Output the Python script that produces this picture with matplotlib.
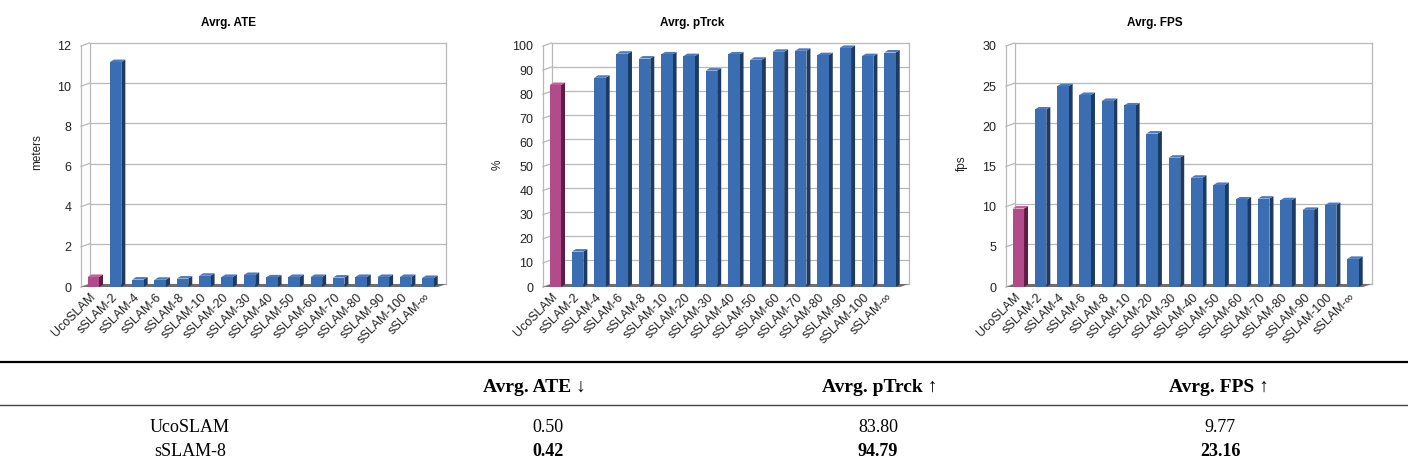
#Bar charts of the sSLAM variants against UcoSLAM, with a small summary table
import numpy as np
import matplotlib
matplotlib.use("Agg")
import matplotlib.pyplot as plt
from matplotlib.patches import Polygon
from matplotlib.lines import Line2D

#Method names on the x axis
methods = ['UcoSLAM', 'sSLAM-2', 'sSLAM-4', 'sSLAM-6', 'sSLAM-8', 'sSLAM-10',
           'sSLAM-20', 'sSLAM-30', 'sSLAM-40', 'sSLAM-50', 'sSLAM-60',
           'sSLAM-70', 'sSLAM-80', 'sSLAM-90', 'sSLAM-100', 'sSLAM-\u221e']

#Average values per method
ate = [0.50, 11.2, 0.37, 0.36, 0.42, 0.56, 0.50, 0.60, 0.48, 0.50, 0.50,
       0.47, 0.50, 0.50, 0.50, 0.45]
ptrck = [83.80, 14.7, 86.8, 96.8, 94.79, 96.5, 95.8, 89.8, 96.5, 94.3, 97.6,
         98.0, 96.2, 99.2, 95.8, 97.3]
fps = [9.77, 22.1, 25.0, 23.9, 23.16, 22.6, 19.1, 16.1, 13.6, 12.7, 10.9,
       11.0, 10.8, 9.6, 10.2, 3.5]

#Table rows
table_cols = ['Avrg. ATE \u2193', 'Avrg. pTrck \u2191', 'Avrg. FPS \u2191']
table_rows = ['UcoSLAM', 'sSLAM-8']
table_vals = [['0.50', '83.80', '9.77'],
              ['0.42', '94.79', '23.16']]

W, H = 1408, 471
fig = plt.figure(figsize=(W/100, H/100), dpi=100)
plt.rcParams['font.family'] = ['Liberation Sans', 'DejaVu Sans']

blue = ('#3b6db3', '#4a7bc0', '#1d3a62')     #front, top, side
pink = ('#b24b8b', '#c25f9c', '#5f1c46')


def chart(left, title, title_x, ylabel, ylab_xy, vals, ymax, ystep):
    #front plane of the chart in pixels
    width, top, bottom = 357, 46, 287
    ax = fig.add_axes([left/W, (H-bottom)/H, width/W, (bottom-top)/H])
    x0, x1 = -0.55, 15.45
    ax.set_xlim(x0, x1)
    ax.set_ylim(0, ymax)
    for s in ax.spines.values():
        s.set_visible(False)
    ax.patch.set_visible(False)

    #pixel offsets converted to data units for the fake depth
    ux = width/(x1-x0)
    uy = (bottom-top)/ymax
    wdx, wdy = 8.5/ux, 3.0/uy
    bdx, bdy = 4.0/ux, 2.5/uy
    bw = 11.5/ux

    ticks = np.arange(0, ymax+ystep/2, ystep)
    grid = dict(color='#b8b8b8', lw=0.9, clip_on=False, zorder=1)
    #floor
    ax.add_patch(Polygon([(x0, 0), (x1, 0), (x1+wdx, wdy), (x0+wdx, wdy)],
                         closed=True, fc='#6e6e6e', ec='none', clip_on=False, zorder=2))
    #back wall gridlines and left wall ticks
    for v in ticks:
        ax.plot([x0+wdx, x1+wdx], [v+wdy, v+wdy], **grid)
        ax.plot([x0, x0+wdx], [v, v+wdy], **grid)
    ax.plot([x0, x0], [0, ymax], **grid)
    ax.plot([x0+wdx, x0+wdx], [wdy, ymax+wdy], **grid)
    ax.plot([x1+wdx, x1+wdx], [wdy, ymax+wdy], **grid)

    #3D looking bars: front from ax.bar, side and top as polygons
    for i, v in enumerate(vals):
        front, topc, side = pink if i == 0 else blue
        l, r = i-bw/2, i+bw/2
        ax.add_patch(Polygon([(r, 0), (r+bdx, bdy), (r+bdx, v+bdy), (r, v)],
                             closed=True, fc=side, ec='none', clip_on=False, zorder=3))
        ax.add_patch(Polygon([(l, v), (r, v), (r+bdx, v+bdy), (l+bdx, v+bdy)],
                             closed=True, fc=topc, ec='none', clip_on=False, zorder=3))
    ax.bar(range(len(vals)), vals, width=bw,
           color=[pink[0]] + [blue[0]]*(len(vals)-1), zorder=4, clip_on=False)

    ax.set_yticks(ticks)
    ax.set_yticklabels([f'{t:g}' for t in ticks], fontsize=9, color='#222222')
    ax.set_xticks(range(len(methods)))
    ax.set_xticklabels(methods, rotation=45, ha='right', va='center',
                       rotation_mode='anchor', fontsize=9, color='#222222')
    ax.tick_params(axis='y', length=0, pad=7)
    ax.tick_params(axis='x', length=0, pad=6)

    fig.text(title_x/W, 1-23/H, title, ha='center', va='center',
             fontsize=8.5, fontweight='bold')
    fig.text(ylab_xy[0]/W, 1-ylab_xy[1]/H, ylabel, ha='center', va='center',
             rotation=90, fontsize=8.5, color='#222222')


chart(81, 'Avrg. ATE', 229, 'meters', (37, 152), ate, 12, 2)
chart(543, 'Avrg. pTrck', 692, '%', (498, 165), ptrck, 100, 10)
chart(1006, 'Avrg. FPS', 1155, 'fps', (962, 163), fps, 30, 5)

#Summary table under the charts
serif = ['Liberation Serif', 'DejaVu Serif']
fig.add_artist(Line2D([0, 1], [1-362/H, 1-362/H], color='black', lw=1.6))
fig.add_artist(Line2D([0, 1], [1-405/H, 1-405/H], color='#444444', lw=1.0))
col_x = [548, 878, 1220]
head_x = [534, 880, 1219]
for hx, name in zip(head_x, table_cols):
    fig.text(hx/W, 1-387/H, name, ha='center', va='center', fontsize=14,
             fontweight='bold', family=serif)
for r, (row, rv) in enumerate(zip(table_rows, table_vals)):
    y = 1-(428+24*r)/H
    fig.text(190/W, y, row, ha='center', va='center', fontsize=13, family=serif)
    for cx, v in zip(col_x, rv):
        fig.text(cx/W, y, v, ha='center', va='center', fontsize=13, family=serif,
                 fontweight='bold' if r == 1 else 'normal')

plt.savefig('out.png', dpi=100)
